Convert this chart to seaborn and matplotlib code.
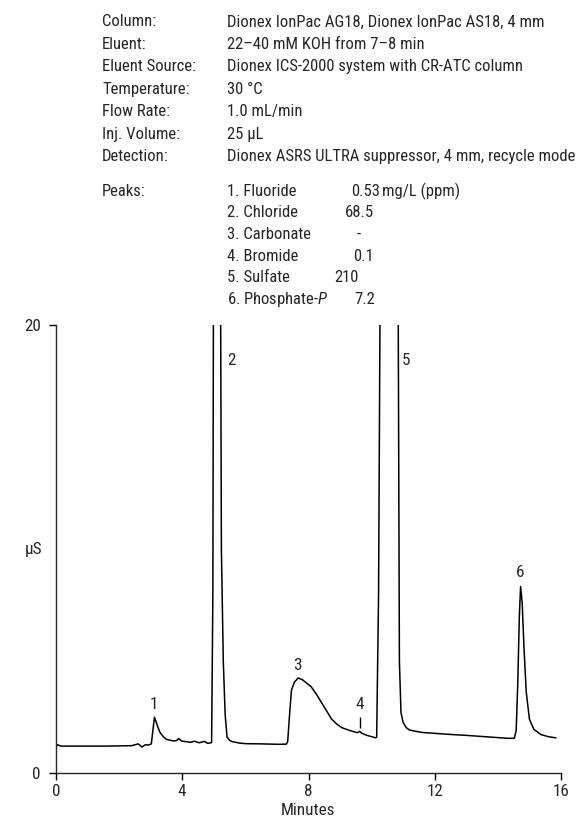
import seaborn as sns
import matplotlib.pyplot as plt
import pandas as pd

# chromatogram trace (minutes, uS)
minutes = [0.0, 0.05, 0.16, 0.5, 1.0, 1.5, 2.0, 2.4, 2.6, 2.66, 2.72, 2.83, 2.94, 3.02,
           3.07, 3.12, 3.18, 3.24, 3.3, 3.4, 3.5, 3.62, 3.73, 3.82, 3.89, 3.95, 4.0, 4.13,
           4.27, 4.38, 4.46, 4.54, 4.62, 4.7, 4.8, 4.88, 4.93, 4.97, 5.0, 5.1, 5.2, 5.24,
           5.3, 5.36, 5.42, 5.5, 5.58, 5.8, 6.0, 6.5, 7.09, 7.3, 7.34, 7.4, 7.46, 7.55,
           7.67, 7.8, 8.08, 8.25, 8.4, 8.57, 8.73, 8.9, 9.05, 9.3, 9.55, 9.62, 9.68, 9.85,
           10.13, 10.16, 10.22, 10.3, 10.6, 10.82, 10.88, 10.93, 11.0, 11.1, 11.2, 11.4,
           11.6, 12.0, 12.5, 13.0, 13.5, 14.0, 14.3, 14.52, 14.58, 14.63, 14.68, 14.72,
           14.77, 14.83, 14.9, 15.0, 15.14, 15.36, 15.6, 15.84]
signal = [1.18, 1.26, 1.2, 1.2, 1.2, 1.2, 1.21, 1.22, 1.3, 1.24, 1.16, 1.26, 1.25, 1.3,
          1.9, 2.49, 2.25, 2.0, 1.8, 1.62, 1.5, 1.46, 1.43, 1.45, 1.54, 1.46, 1.42, 1.4,
          1.37, 1.42, 1.38, 1.35, 1.38, 1.41, 1.33, 1.34, 1.36, 8.0, 30.0, 60.0, 28.0, 10.0,
          5.0, 2.6, 1.6, 1.46, 1.4, 1.34, 1.31, 1.3, 1.28, 1.29, 1.4, 2.6, 3.7, 4.05,
          4.24, 4.17, 3.86, 3.52, 3.17, 2.78, 2.41, 2.18, 2.03, 1.9, 1.8, 1.86, 1.78, 1.68,
          1.57, 1.6, 8.0, 30.0, 90.0, 30.0, 5.0, 2.7, 2.25, 2.02, 1.92, 1.86,
          1.81, 1.77, 1.72, 1.68, 1.63, 1.58, 1.55, 1.55, 1.9, 4.0, 7.0, 8.33,
          7.6, 5.5, 3.6, 2.4, 1.95, 1.72, 1.62, 1.57]

peak_labels = ["1", "2", "3", "4", "5", "6"]
label_x = [3.1, 5.56, 7.65, 9.62, 11.1, 14.72]
label_y = [3.07, 18.4, 4.82, 3.07, 18.4, 8.94]

x_ticks = [0, 4, 8, 12, 16]
y_ticks = [0, 20]

header_keys = ["Column:", "Eluent:", "Eluent Source:", "Temperature:", "Flow Rate:",
               "Inj. Volume:", "Detection:"]
header_vals = ["Dionex IonPac AG18, Dionex IonPac AS18, 4 mm",
               "22\u201340 mM KOH from 7\u20138 min",
               "Dionex ICS-2000 system with CR-ATC column",
               "30 \u00b0C",
               "1.0 mL/min",
               "25 \u00b5L",
               "Dionex ASRS ULTRA suppressor, 4 mm, recycle mode"]
peak_names = ["1. Fluoride", "2. Chloride", "3. Carbonate", "4. Bromide", "5. Sulfate",
              "6. Phosphate-$\\mathit{P}$"]
peak_conc = ["0.53", "68.5", "-", "0.1", "210", "7.2"]
conc_x = [351, 345, 357, 353, 334, 354]

df = pd.DataFrame({"Minutes": minutes, "uS": signal})

sns.set_theme(style="ticks")
FONT = "Roboto Condensed"
plt.rcParams["font.family"] = [FONT, "DejaVu Sans"]
plt.rcParams["mathtext.fontset"] = "custom"
plt.rcParams["mathtext.rm"] = FONT
plt.rcParams["mathtext.it"] = FONT + ":italic"
plt.rcParams["text.color"] = "#262626"

W, H = 581, 822
fig = plt.figure(figsize=(W / 100, H / 100), dpi=100)
ax = fig.add_axes([56 / W, 1 - 773 / H, (561 - 56) / W, (773 - 325) / H])

sns.lineplot(data=df, x="Minutes", y="uS", ax=ax, color="black", linewidth=1.1)

ax.set_xlim(0, 16)
ax.set_ylim(0, 20)
ax.set_xticks(x_ticks)
ax.set_yticks(y_ticks)
sns.despine(ax=ax)
ax.spines["left"].set_linewidth(1.0)
ax.spines["bottom"].set_linewidth(1.0)
ax.tick_params(direction="out", length=5, width=1.0, labelsize=12.3, colors="black",
               labelcolor="#262626")
ax.tick_params(axis="x", pad=3)
ax.tick_params(axis="y", pad=6)
ax.set_xlabel("Minutes", fontsize=12.3, labelpad=3, color="#262626")
ax.set_ylabel("\u00b5S", fontsize=12.3, rotation=0, va="center", color="#262626")
ax.yaxis.set_label_coords(-0.045, 0.5)

for lab, lx, ly in zip(peak_labels, label_x, label_y):
    ax.text(lx, ly, lab, ha="center", va="center", fontsize=12.3)
ax.vlines(9.62, 2.03, 2.5, color="black", linewidth=1.0)

fs = 12
row = 22.4
for i, (k, v) in enumerate(zip(header_keys, header_vals)):
    y = 1 - (22 + i * row) / H
    fig.text(102 / W, y, k, fontsize=fs, va="center")
    fig.text(227 / W, y, v, fontsize=fs, va="center")
peaks_top = 191
prow = 21.7
fig.text(102 / W, 1 - peaks_top / H, "Peaks:", fontsize=fs, va="center")
for i, (n, c, cx) in enumerate(zip(peak_names, peak_conc, conc_x)):
    y = 1 - (peaks_top + i * prow) / H
    fig.text(227 / W, y, n, fontsize=fs, va="center")
    fig.text(cx / W, y, c, fontsize=fs, va="center")
fig.text(382 / W, 1 - peaks_top / H, "mg/L (ppm)", fontsize=fs, va="center")

fig.savefig("out.png", dpi=100)
